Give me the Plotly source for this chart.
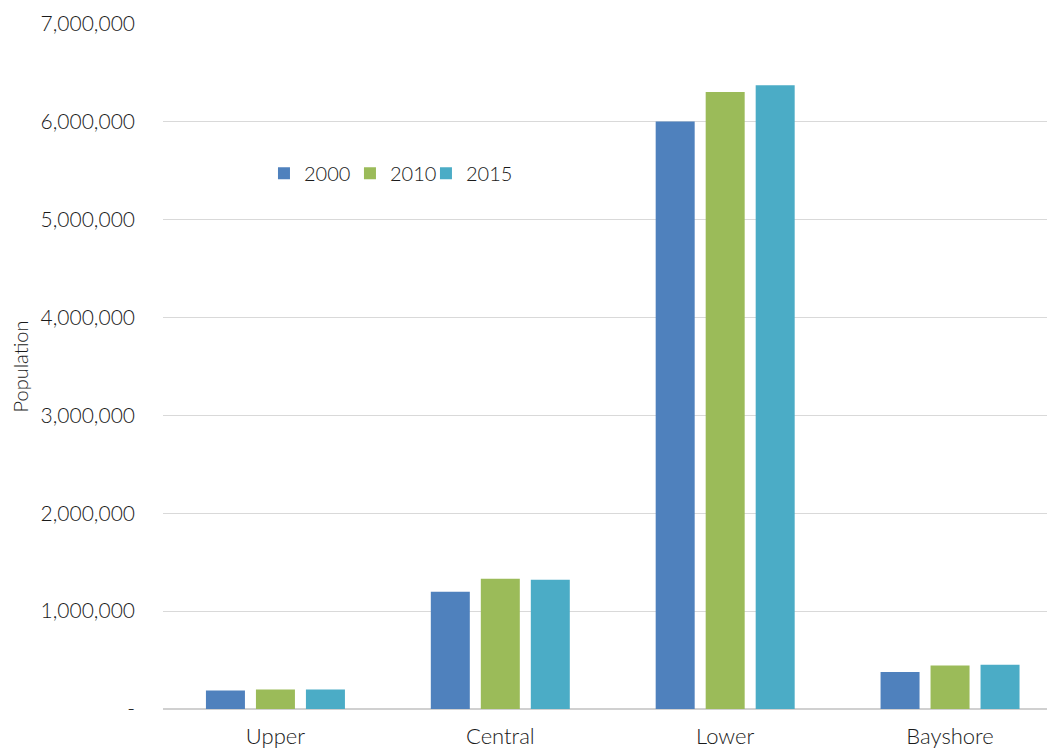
import plotly.graph_objects as go

regions = ["Upper", "Central", "Lower", "Bayshore"]
years = ["2000", "2010", "2015"]
pop_2000 = [188000, 1199000, 6003000, 379000]
pop_2010 = [198000, 1332000, 6304000, 444000]
pop_2015 = [198000, 1322000, 6373000, 451000]
colors = ["#4F81BD", "#9BBB59", "#4BACC6"]
y_ticks = [0, 1000000, 2000000, 3000000, 4000000, 5000000, 6000000, 7000000]
y_ticktext = ["-", "1,000,000", "2,000,000", "3,000,000", "4,000,000",
              "5,000,000", "6,000,000", "7,000,000"]

series = [pop_2000, pop_2010, pop_2015]
legend_ids = ["legend", "legend2", "legend3"]
legend_x = [0.1132, 0.2096, 0.2948]

font = "Lato, 'Open Sans', sans-serif"
txt = "#1A1A1A"

fig = go.Figure()
for name, vals, c, lg in zip(years, series, colors, legend_ids):
    fig.add_trace(go.Bar(x=regions, y=vals, name=name, marker_color=c,
                         marker_line_width=0, legend=lg, showlegend=True))

legend_common = dict(orientation="h", y=0.782, xanchor="left", yanchor="middle",
                     font=dict(size=20, weight=300, color=txt), itemwidth=30,
                     bgcolor="rgba(0,0,0,0)", visible=True)

fig.update_layout(
    width=1047, height=744,
    margin=dict(l=155, r=0, t=16, b=43),
    paper_bgcolor="white", plot_bgcolor="white",
    showlegend=True,
    barmode="group", bargap=0.333, bargroupgap=0.22,
    font=dict(family=font, size=20, color=txt, weight=300),
    legend=dict(x=legend_x[0], **legend_common),
    legend2=dict(x=legend_x[1], **legend_common),
    legend3=dict(x=legend_x[2], **legend_common),
    xaxis=dict(range=[-0.5, 3.4667], showgrid=False, showline=False,
               ticks="", ticklabelstandoff=12,
               tickfont=dict(size=22, weight=300, color=txt),
               automargin=False),
    yaxis=dict(range=[0, 7000000], tickvals=y_ticks, ticktext=y_ticktext,
               showgrid=True, gridcolor="#D9D9D9", gridwidth=1,
               zeroline=True, zerolinecolor="#D0D0D0", zerolinewidth=1.5,
               showline=False, ticks="", ticklabelstandoff=27,
               tickfont=dict(size=21, weight=300, color=txt), automargin=False,
               title=dict(text="Population", font=dict(size=20, weight=300, color=txt),
                          standoff=10)),
)

fig.write_html("out.html")
